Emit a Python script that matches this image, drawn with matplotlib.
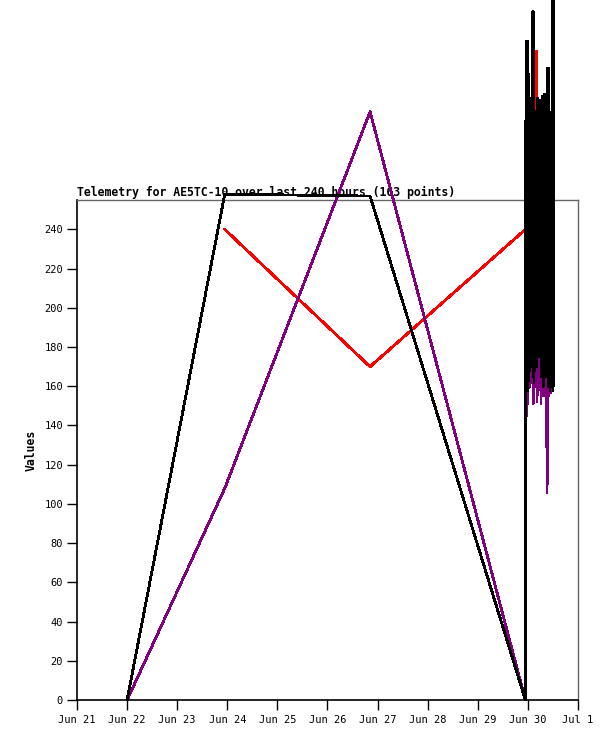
import matplotlib
matplotlib.use("Agg")
import matplotlib.pyplot as plt
import matplotlib.dates as mdates
from matplotlib.ticker import FuncFormatter, MultipleLocator
from datetime import datetime, timedelta
import numpy as np

# 1. DATA: hours since Jun 21 00:00 and the three telemetry channels
START = datetime(2025, 6, 21)

lead_hours = [24.0, 70.8, 140.4, 214.8]
lead_black = [0, 258, 257, 0]
lead_red = [np.nan, 240, 170, 240]
lead_purple = [0, 108, 300, 0]

# the dense burst of points at the end of the window
burst_hours = [214.9, 215.1, 215.4, 215.6, 215.8, 216.1, 216.3, 216.5, 216.8, 217.0,
               217.3, 217.5, 217.7, 218.0, 218.2, 218.5, 218.7, 218.9, 219.2, 219.4,
               219.7, 219.9, 220.1, 220.4, 220.6, 220.9, 221.1, 221.3, 221.6, 221.8,
               222.1, 222.3, 222.5, 222.8, 223.0, 223.3, 223.5, 223.7, 224.0, 224.2,
               224.5, 224.7, 224.9, 225.2, 225.4, 225.7, 225.9, 226.1, 226.4, 226.6,
               226.9, 227.1, 227.3, 227.6, 227.8, 228.0, 228.1, 228.25]
burst_black = [295, 160, 336, 165, 336, 158, 319, 170, 307, 168,
               307, 172, 300, 170, 351, 165, 351, 162, 300, 168,
               300, 175, 300, 170, 307, 182, 301, 175, 306, 185,
               306, 165, 300, 168, 308, 160, 308, 175, 309, 178,
               309, 165, 300, 170, 322, 160, 322, 162, 265, 158,
               260, 165, 300, 160, 365, 158, 160, 370]
burst_red = [240, 200, 250, 195, 245, 190, 255, 200, 248, 185,
             252, 195, 246, 190, 258, 188, 250, 192, 245, 186,
             260, 195, 331, 240, 301, 202, 250, 168, 255, 190,
             248, 195, 252, 185, 246, 190, 255, 192, 250, 188,
             258, 193, 250, 179, 245, 190, 252, 195, 262, 200,
             280, 267, 250, 190, 245, 185, 195, 200]
burst_purple = [190, 145, 195, 145, 185, 158, 190, 165, 180, 160,
                188, 175, 192, 172, 185, 151, 190, 152, 182, 160,
                188, 165, 190, 152, 185, 158, 192, 165, 186, 170,
                190, 151, 184, 155, 190, 158, 188, 155, 175, 160,
                190, 150, 185, 106, 192, 155, 188, 158, 190, 160,
                195, 157, 185, 158, 190, 160, 185, 175]

hours = lead_hours + burst_hours
black = lead_black + burst_black
red = lead_red + burst_red
purple = lead_purple + burst_purple

times = [START + timedelta(hours=h) for h in hours]

# 2. FIGURE
plt.rcParams['font.family'] = ['DejaVu Sans Mono']
fig = plt.figure(figsize=(6.15, 7.41), dpi=100)
ax = fig.add_axes([0.1252, 0.0553, 0.8146, 0.6748])

# lines are not clipped to the plot box, same as the original chart
ax.plot(times, red, color='#ff0000', lw=1.3, clip_on=False, zorder=4, antialiased=False)
ax.plot(times, purple, color='#800080', lw=1.3, clip_on=False, zorder=5, antialiased=False)
ax.plot(times, black, color='black', lw=1.3, clip_on=False, zorder=6, antialiased=False)

# 3. AXES
ax.set_xlim(START, START + timedelta(days=10))
ax.set_ylim(0, 255)
ax.yaxis.set_major_locator(MultipleLocator(20))
ax.xaxis.set_major_locator(mdates.DayLocator())
ax.xaxis.set_major_formatter(FuncFormatter(
    lambda v, pos: "%s %d" % (mdates.num2date(v).strftime('%b'), mdates.num2date(v).day)))

ax.tick_params(axis='both', direction='out', length=7, width=1, labelsize=7.5, colors='black')
ax.tick_params(axis='x', pad=4)
ax.tick_params(axis='y', pad=3)

for side in ['left', 'bottom']:
    ax.spines[side].set_color('black')
    ax.spines[side].set_linewidth(1.2)
for side in ['top', 'right']:
    ax.spines[side].set_color('#666666')
    ax.spines[side].set_linewidth(1.0)

ax.set_title('Telemetry for AE5TC-10 over last 240 hours (163 points)',
             loc='left', fontsize=8.3, fontweight='bold', pad=3)
ax.set_ylabel('Values', fontsize=8.3, fontweight='bold', labelpad=5)

fig.savefig('out.png', dpi=100)
